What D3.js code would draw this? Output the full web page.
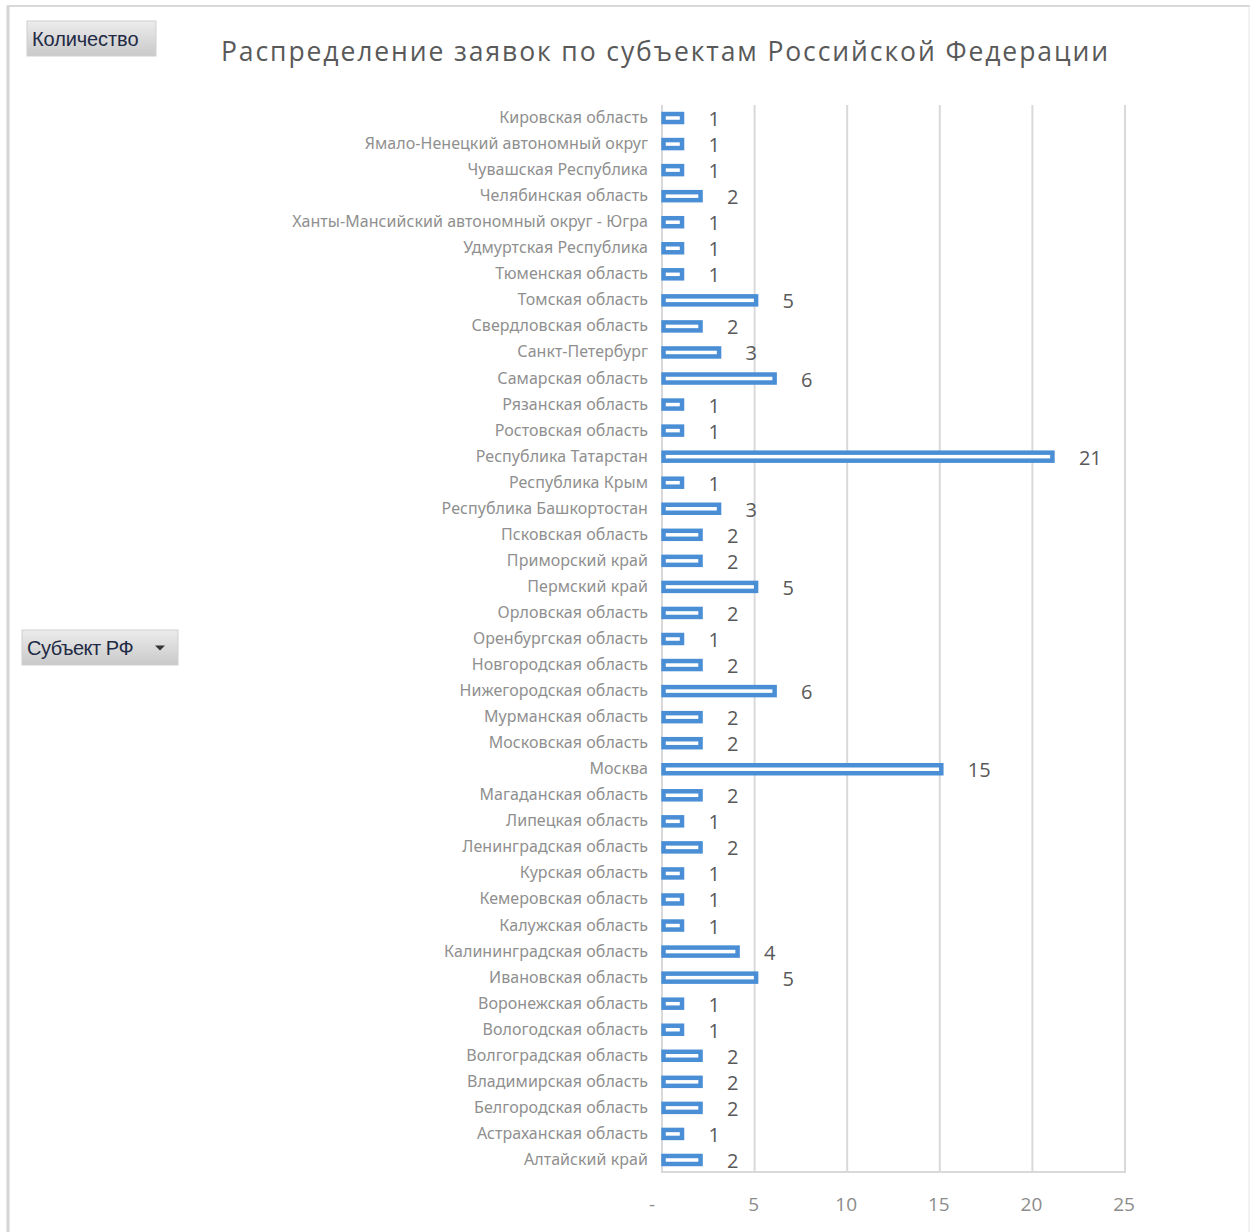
<!DOCTYPE html>
<html><head><meta charset="utf-8">
<script src="https://cdn.jsdelivr.net/npm/d3@7/dist/d3.min.js"></script>
<style>
html,body{margin:0;padding:0;background:#fff;}
svg{display:block;}
</style>
</head><body>
<svg id="chart" width="1250" height="1232"></svg>
<script>
const title = "Распределение заявок по субъектам Российской Федерации";
const categories = [
"Кировская область","Ямало-Ненецкий автономный округ","Чувашская Республика","Челябинская область",
"Ханты-Мансийский автономный округ - Югра","Удмуртская Республика","Тюменская область","Томская область",
"Свердловская область","Санкт-Петербург","Самарская область","Рязанская область","Ростовская область",
"Республика Татарстан","Республика Крым","Республика Башкортостан","Псковская область","Приморский край",
"Пермский край","Орловская область","Оренбургская область","Новгородская область","Нижегородская область",
"Мурманская область","Московская область","Москва","Магаданская область","Липецкая область",
"Ленинградская область","Курская область","Кемеровская область","Калужская область","Калининградская область",
"Ивановская область","Воронежская область","Вологодская область","Волгоградская область","Владимирская область",
"Белгородская область","Астраханская область","Алтайский край"];
const values = [1,1,1,2,1,1,1,5,2,3,6,1,1,21,1,3,2,2,5,2,1,2,6,2,2,15,2,1,2,1,1,1,4,5,1,1,2,2,2,1,2];
const ticks = [0,5,10,15,20,25];
const tickLabels = ["-","5","10","15","20","25"];
const fieldButton = "Количество";
const axisButton = "Субъект РФ";

const svg = d3.select("#chart");
const defs = svg.append("defs");
const grad = defs.append("linearGradient").attr("id","btn").attr("x1",0).attr("y1",0).attr("x2",0).attr("y2",1);
grad.append("stop").attr("offset","0%").attr("stop-color","#ececec");
grad.append("stop").attr("offset","100%").attr("stop-color","#c9c9c9");

// outer frame
svg.append("line").attr("x1",7).attr("x2",1250).attr("y1",6).attr("y2",6).attr("stroke","#d9d9d9").attr("stroke-width",2);
svg.append("line").attr("x1",8).attr("x2",8).attr("y1",6).attr("y2",1232).attr("stroke","#d4d4d4").attr("stroke-width",3);
svg.append("line").attr("x1",1249).attr("x2",1249).attr("y1",6).attr("y2",1232).attr("stroke","#e6e6e6").attr("stroke-width",1);

const x = d3.scaleLinear().domain([0,25]).range([662,1125]);
const y = d3.scaleBand().domain(categories).range([105,1173]);

// title
svg.append("text").attr("x",221).attr("y",61).attr("textLength",887).attr("lengthAdjust","spacing")
  .attr("font-family","'Open Sans', sans-serif").attr("font-size",26.5).attr("fill","#595959").text(title);

// gridlines
svg.append("g").selectAll("line").data(ticks).join("line")
  .attr("x1",d=>x(d)).attr("x2",d=>x(d)).attr("y1",105).attr("y2",1173)
  .attr("stroke","#d9d9d9").attr("stroke-width",2);
svg.append("line").attr("x1",x(0)).attr("x2",x(25)+1).attr("y1",1172).attr("y2",1172)
  .attr("stroke","#d9d9d9").attr("stroke-width",2);

// x tick labels
svg.append("g").selectAll("text").data(ticks).join("text")
  .attr("x",(d,i)=> i===0 ? x(d)-10 : x(d)-1).attr("y",1211).attr("text-anchor","middle")
  .attr("font-family","'Open Sans', sans-serif").attr("font-size",19).attr("fill","#8c8c8c")
  .text((d,i)=>tickLabels[i]);

// category labels
svg.append("g").selectAll("text").data(categories).join("text")
  .attr("x",648).attr("y",d=>y(d)+y.bandwidth()/2+5).attr("text-anchor","end")
  .attr("font-family","'Noto Sans', sans-serif").attr("font-size",16).attr("letter-spacing",0.05)
  .attr("fill","#8f8f8f").text(d=>d);

// bars
svg.append("g").selectAll("rect").data(values).join("rect")
  .attr("x",x(0)+1.5).attr("y",(d,i)=>y(categories[i])+y.bandwidth()/2-4)
  .attr("width",d=>x(d)-x(0)).attr("height",8)
  .attr("fill","#ffffff").attr("stroke","#4a8fd6").attr("stroke-width",4.5);

// value labels
svg.append("g").selectAll("text").data(values).join("text")
  .attr("x",d=>x(d)+28).attr("y",(d,i)=>y(categories[i])+y.bandwidth()/2+8)
  .attr("font-family","'Open Sans', sans-serif").attr("font-size",20).attr("fill","#595959")
  .text(d=>d);

// field buttons
function button(bx,by,w,h,label,arrow,ls){
  const g = svg.append("g");
  g.append("rect").attr("x",bx).attr("y",by).attr("width",w).attr("height",h).attr("fill","url(#btn)")
    .attr("stroke","#d0d0d0").attr("stroke-width",1);
  g.append("text").attr("x",bx+5).attr("y",by+h/2+7).attr("font-family","'Liberation Sans', Arial, sans-serif")
    .attr("font-size",20).attr("letter-spacing",ls).attr("fill","#1f2a44").text(label);
  if(arrow){
    const ax=bx+w-18, ay=by+h/2-2;
    g.append("path").attr("d",`M${ax-5},${ay} L${ax+5},${ay} L${ax},${ay+5} Z`).attr("fill","#333");
  }
}
button(27,21,129,35,fieldButton,false,-0.1);
button(22,630,156,35,axisButton,true,-0.5);
</script>
</body></html>
